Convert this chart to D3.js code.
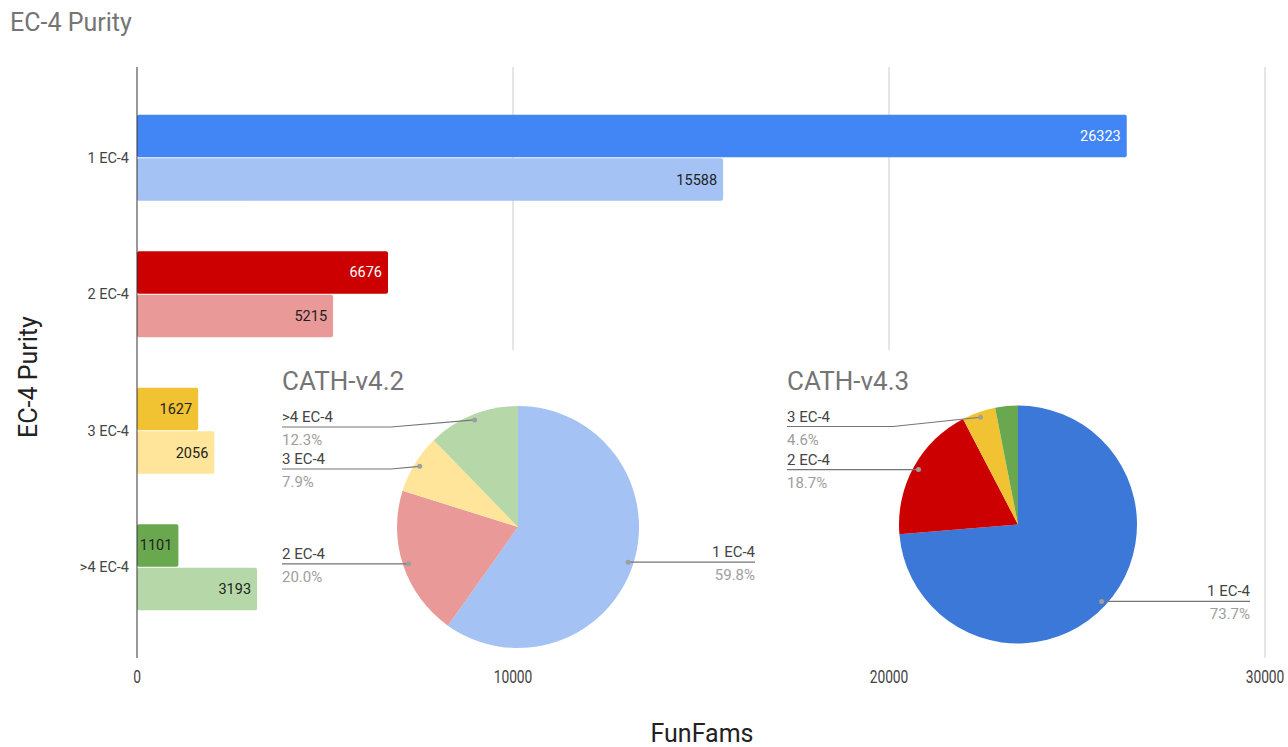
<!DOCTYPE html>
<html><head><meta charset="utf-8">
<script src="https://cdn.jsdelivr.net/npm/d3@7"></script>
<style>
html,body{margin:0;padding:0;background:#fff;}
svg{display:block;font-family:Roboto,"Noto Sans",sans-serif;}
</style></head>
<body><svg id="c" width="1288" height="747"></svg>
<script>
// ---- data ----
const categories = ["1 EC-4", "2 EC-4", "3 EC-4", ">4 EC-4"];
const seriesNames = ["CATH-v4.3", "CATH-v4.2"];
const v43 = [26323, 6676, 1627, 1101];
const v42 = [15588, 5215, 2056, 3193];
const xTicks = [0, 10000, 20000, 30000];
const darkColors = ["#4285f4", "#cc0000", "#f1c232", "#6aa84f"];
const lightColors = ["#a4c2f4", "#ea9999", "#ffe599", "#b6d7a8"];
const pieV43Colors = ["#3c78d8", "#cc0000", "#f1c232", "#6aa84f"];
const darkLabelColors = ["#ffffff", "#ffffff", "#222222", "#222222"];

const svg = d3.select("#c");
const plot = {left: 137, right: 1265, top: 67, bottom: 658};

const x = d3.scaleLinear().domain([0, 30000]).range([plot.left, plot.right]);
const y = d3.scaleBand().domain(categories).range([plot.top, plot.bottom]).paddingInner(0.37).paddingOuter(0.35);
const ySub = d3.scaleBand().domain(seriesNames).range([0, y.bandwidth()]).paddingInner(0.025);

// title
svg.append("text").attr("x", 10).attr("y", 31).attr("font-size", 25).attr("fill", "#757575").text("EC-4 Purity");

// gridlines
svg.append("g").selectAll("line").data(xTicks.filter(d => d > 0)).join("line")
  .attr("x1", d => x(d)).attr("x2", d => x(d))
  .attr("y1", plot.top).attr("y2", plot.bottom)
  .attr("stroke", "#cccccc").attr("stroke-width", 1);

// bars
const rows = categories.map((c, i) => ({c, i, vals: [
  {s: seriesNames[0], v: v43[i], fill: darkColors[i], tc: darkLabelColors[i]},
  {s: seriesNames[1], v: v42[i], fill: lightColors[i], tc: "#222222"}]}));
const g = svg.append("g").selectAll("g").data(rows).join("g")
  .attr("transform", d => `translate(0,${y(d.c)})`);
g.selectAll("rect").data(d => d.vals).join("rect")
  .attr("x", x(0)).attr("y", d => ySub(d.s))
  .attr("width", d => x(d.v) - x(0)).attr("height", ySub.bandwidth())
  .attr("rx", 2).attr("fill", d => d.fill);
g.selectAll("text").data(d => d.vals).join("text")
  .attr("x", d => x(d.v) - 6).attr("y", d => ySub(d.s) + ySub.bandwidth() / 2 + 5)
  .attr("text-anchor", "end").attr("font-size", 14.5).attr("fill", d => d.tc)
  .text(d => d.v);

// category labels
svg.append("g").selectAll("text").data(categories).join("text")
  .attr("x", 129).attr("y", d => y(d) + y.bandwidth() / 2 + 5)
  .attr("text-anchor", "end").attr("font-size", 14.5).attr("fill", "#444").text(d => d);

// white panels for pies
const pies = [
  {title: "CATH-v4.2", vals: v42, colors: lightColors, cx: 518, cy: 527, r: 121, box: [263, 350, 500, 310], lx: 282, rx: 755},
  {title: "CATH-v4.3", vals: v43, colors: pieV43Colors, cx: 1018, cy: 524.5, r: 119, box: [768, 350, 494, 310], lx: 787, rx: 1250}
];
pies.forEach(p => {
  svg.append("rect").attr("x", p.box[0]).attr("y", p.box[1]).attr("width", p.box[2]).attr("height", p.box[3]).attr("fill", "#fff");
});

// axis line & ticks
svg.append("line").attr("x1", x(0)).attr("x2", x(0)).attr("y1", plot.top).attr("y2", plot.bottom)
  .attr("stroke", "#333").attr("stroke-width", 1);
svg.append("g").selectAll("text").data(xTicks).join("text")
  .attr("transform", d => `translate(${x(d)},683) scale(0.92,1.2)`).attr("text-anchor", "middle")
  .attr("font-size", 15).attr("fill", "#444").text(d => d);

// axis titles
svg.append("text").attr("transform", "translate(37,377) rotate(-90)").attr("text-anchor", "middle")
  .attr("font-size", 25).attr("fill", "#222").text("EC-4 Purity");
svg.append("text").attr("x", 702).attr("y", 742).attr("text-anchor", "middle")
  .attr("font-size", 25).attr("fill", "#222").text("FunFams");

// pies
pies.forEach(p => {
  const total = d3.sum(p.vals);
  const data = categories.map((c, i) => ({c, v: p.vals[i], color: p.colors[i]}));
  const arcs = d3.pie().sort(null).value(d => d.v)(data);
  const pg = svg.append("g");
  pg.append("text").attr("x", p.lx).attr("y", p.box[1] + 40).attr("font-size", 26).attr("fill", "#757575").text(p.title);
  const arc = d3.arc().innerRadius(0).outerRadius(p.r);
  const cg = pg.append("g").attr("transform", `translate(${p.cx},${p.cy})`);
  cg.selectAll("path").data(arcs).join("path").attr("d", arc).attr("fill", d => d.data.color);

  // labels
  const labels = arcs.filter(a => a.data.v / total >= 0.04).map(a => {
    const mid = (a.startAngle + a.endAngle) / 2;
    const rr = p.r * 0.955;
    const dx = p.cx + Math.sin(mid) * rr, dy = p.cy - Math.cos(mid) * rr;
    return {a, dx, dy, side: Math.sin(mid) >= 0 ? "right" : "left", pct: (a.data.v / total * 100).toFixed(1) + "%"};
  });
  ["left", "right"].forEach(side => {
    const ls = labels.filter(l => l.side === side).sort((a, b) => a.dy - b.dy);
    let prev = -Infinity;
    ls.forEach(l => {
      l.ly = Math.max(l.dy, p.cy - p.r + 21, prev + 42);
      prev = l.ly;
    });
  });
  labels.forEach(l => {
    const left = l.side === "left";
    const endX = left ? p.lx : p.rx;
    const elbowX = left ? p.cx - p.r - 6 : p.cx + p.r + 6;
    const pts = Math.abs(l.ly - l.dy) > 1 ? [[l.dx, l.dy], [elbowX, l.ly], [endX, l.ly]] : [[l.dx, l.ly], [endX, l.ly]];
    pg.append("path").attr("d", d3.line()(pts)).attr("fill", "none").attr("stroke", "#757575").attr("stroke-width", 1.2);
    pg.append("circle").attr("cx", l.dx).attr("cy", l.dy).attr("r", 2.5).attr("fill", "#9e9e9e");
    pg.append("text").attr("x", endX).attr("y", l.ly - 5).attr("text-anchor", left ? "start" : "end")
      .attr("font-size", 15).attr("fill", "#444").text(l.a.data.c);
    pg.append("text").attr("x", endX).attr("y", l.ly + 18).attr("text-anchor", left ? "start" : "end")
      .attr("font-size", 15).attr("fill", "#9e9e9e").text(l.pct);
  });
});
</script></body></html>
